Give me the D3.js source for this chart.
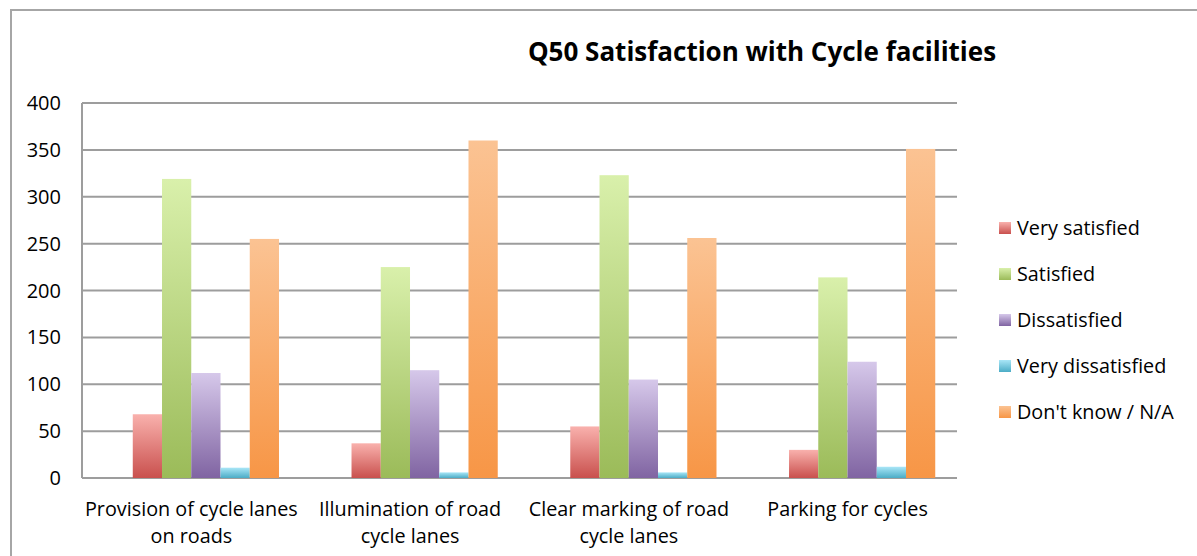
<!DOCTYPE html>
<html>
<head>
<meta charset="utf-8">
<script src="https://cdn.jsdelivr.net/npm/d3@7"></script>
<style>
  body { margin: 0; background: #fff; }
  svg { display: block; font-family: "Open Sans", Lato, sans-serif; }
</style>
</head>
<body>
<svg id="chart" width="1197" height="556"></svg>
<script>
var categories = [
  ["Provision of cycle lanes", "on roads"],
  ["Illumination of road", "cycle lanes"],
  ["Clear marking of road", "cycle lanes"],
  ["Parking for cycles"]
];
var seriesNames = ["Very satisfied", "Satisfied", "Dissatisfied", "Very dissatisfied", "Don't know / N/A"];
var verySatisfied = [68, 37, 55, 30];
var satisfied = [319, 225, 323, 214];
var dissatisfied = [112, 115, 105, 124];
var veryDissatisfied = [11, 6, 6, 12];
var dontKnow = [255, 360, 256, 351];
var yTicks = [0, 50, 100, 150, 200, 250, 300, 350, 400];

var seriesValues = [verySatisfied, satisfied, dissatisfied, veryDissatisfied, dontKnow];
var colorTop = ["#f9b1ad", "#d9f0ab", "#d6c8ea", "#a9e6f7", "#fbc393"];
var colorBottom = ["#c9504d", "#9bbb59", "#8064a2", "#4bacc6", "#f79646"];

function draw() {
  var svg = d3.select("#chart");
  var margin = {top: 103, right: 240, bottom: 78, left: 82};
  var w = 1197 - margin.left - margin.right;
  var h = 556 - margin.top - margin.bottom;

  var defs = svg.append("defs");
  seriesNames.forEach(function(s, i) {
    var g = defs.append("linearGradient")
      .attr("id", "grad" + i)
      .attr("x1", 0).attr("y1", 0).attr("x2", 0).attr("y2", 1);
    g.append("stop").attr("offset", "0%").attr("stop-color", colorTop[i]);
    g.append("stop").attr("offset", "100%").attr("stop-color", colorBottom[i]);
  });

  // outer frame
  svg.append("rect")
    .attr("x", 11).attr("y", 10)
    .attr("width", 1200).attr("height", 560)
    .attr("fill", "none")
    .attr("stroke", "#a6a6a6")
    .attr("stroke-width", 2);

  svg.append("text")
    .attr("x", 762).attr("y", 61)
    .attr("text-anchor", "middle")
    .attr("font-size", 26)
    .attr("font-weight", "bold")
    .text("Q50 Satisfaction with Cycle facilities");

  var g = svg.append("g")
    .attr("transform", "translate(" + margin.left + "," + margin.top + ")");

  var x0 = d3.scaleBand()
    .domain(d3.range(categories.length))
    .range([0, w])
    .padding(0);

  var x1 = d3.scaleBand()
    .domain(d3.range(seriesNames.length))
    .range([0, x0.bandwidth()])
    .paddingInner(0)
    .paddingOuter(1.24)
    .align(0.7);

  var y = d3.scaleLinear()
    .domain([0, 400])
    .range([h, 0]);

  // gridlines
  g.selectAll("line.grid").data(yTicks)
    .enter().append("line")
    .attr("class", "grid")
    .attr("x1", 0).attr("x2", w)
    .attr("y1", function(d) { return y(d); })
    .attr("y2", function(d) { return y(d); })
    .attr("stroke", "#9d9d9d")
    .attr("stroke-width", 2);

  g.append("line")
    .attr("x1", 0).attr("x2", 0)
    .attr("y1", 0).attr("y2", h)
    .attr("stroke", "#9d9d9d")
    .attr("stroke-width", 2);

  g.selectAll("text.ytick").data(yTicks)
    .enter().append("text")
    .attr("class", "ytick")
    .attr("x", -21)
    .attr("y", function(d) { return y(d); })
    .attr("dy", "0.35em")
    .attr("text-anchor", "end")
    .attr("font-size", 20)
    .text(function(d) { return d; });

  var groups = g.selectAll("g.cat").data(categories)
    .enter().append("g")
    .attr("class", "cat")
    .attr("transform", function(d, i) { return "translate(" + x0(i) + ",0)"; });

  groups.selectAll("rect")
    .data(function(d, ci) {
      return seriesValues.map(function(arr, si) { return {s: si, v: arr[ci]}; });
    })
    .enter().append("rect")
    .attr("x", function(d) { return x1(d.s); })
    .attr("width", x1.bandwidth())
    .attr("y", function(d) { return y(d.v); })
    .attr("height", function(d) { return h - y(d.v); })
    .attr("fill", function(d) { return "url(#grad" + d.s + ")"; });

  groups.each(function(lines, i) {
    var t = d3.select(this).append("text")
      .attr("x", x0.bandwidth() / 2)
      .attr("y", h + 38)
      .attr("text-anchor", "middle")
      .attr("font-size", 19.8);
    lines.forEach(function(l, k) {
      t.append("tspan")
        .attr("x", x0.bandwidth() / 2)
        .attr("dy", k === 0 ? 0 : 27)
        .text(l);
    });
  });

  var legend = svg.append("g")
    .attr("transform", "translate(999,228)");
  var li = legend.selectAll("g").data(seriesNames)
    .enter().append("g")
    .attr("transform", function(d, i) { return "translate(0," + i * 46 + ")"; });
  li.append("rect")
    .attr("x", 0).attr("y", -6)
    .attr("width", 12).attr("height", 12)
    .attr("fill", function(d, i) { return "url(#grad" + i + ")"; });
  li.append("text")
    .attr("x", 18)
    .attr("dy", "0.35em")
    .attr("font-size", 19.8)
    .text(function(d) { return d; });
}

draw();
</script>
</body>
</html>
